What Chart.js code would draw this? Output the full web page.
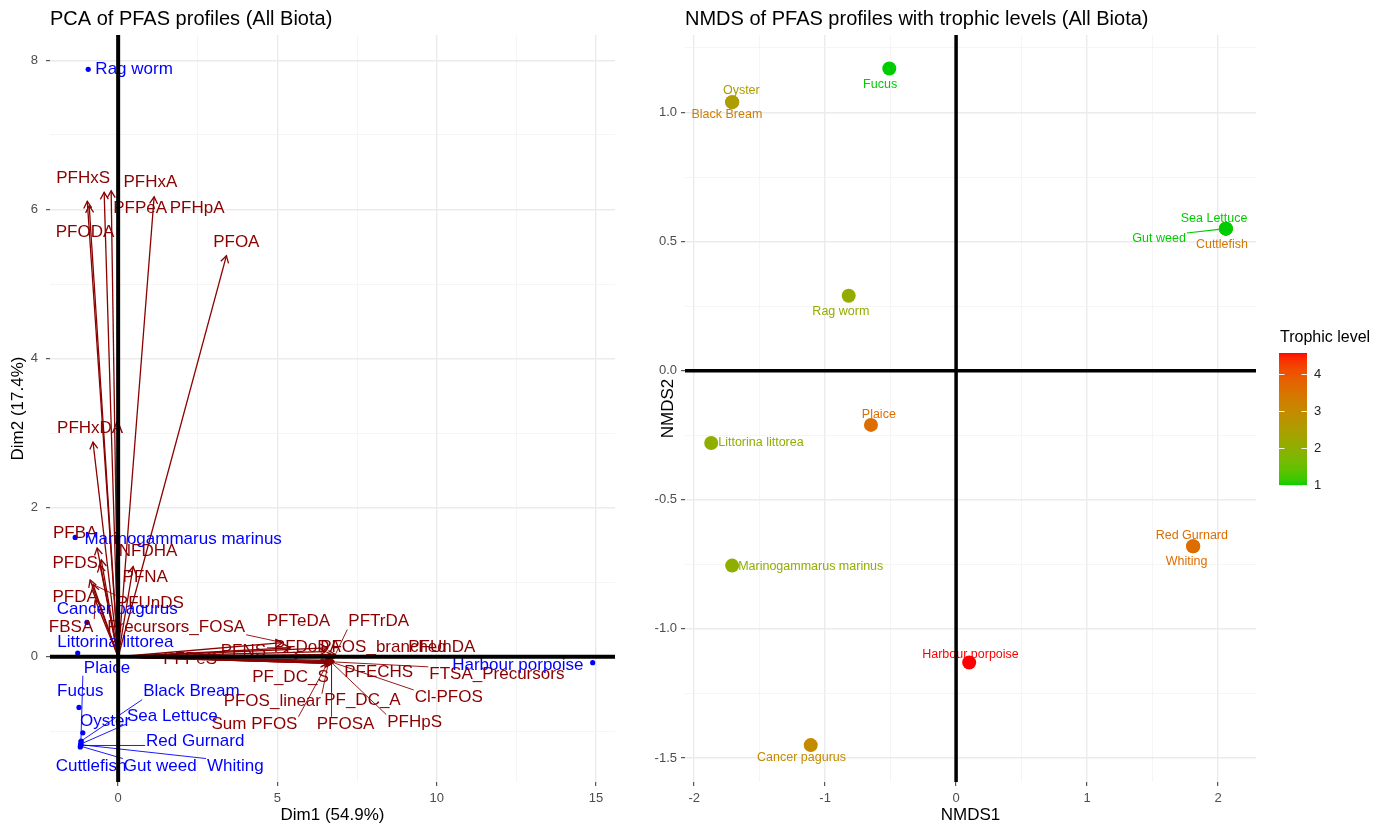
<!DOCTYPE html>
<html><head><meta charset="utf-8">
<script src="https://cdn.jsdelivr.net/npm/chart.js@4.4.1/dist/chart.umd.min.js"></script>
<style>
html,body{margin:0;padding:0;background:#fff;}
#wrap{position:relative;width:1389px;height:827px;overflow:hidden;background:#fff;}
#c1{position:absolute;left:0;top:0;}
#c2{position:absolute;left:640px;top:0;}
</style></head><body>
<div id="wrap"><canvas id="c1" width="640" height="827"></canvas><canvas id="c2" width="749" height="827"></canvas></div>
<script>
const FONT = '"Liberation Sans", Arial, Helvetica, sans-serif';

// ===== PCA biplot: individuals =====
const pcaIndNames = ["Rag worm","Marinogammarus marinus","Cancer pagurus","Littorina littorea","Fucus","Black Bream","Plaice","Sea Lettuce","Red Gurnard","Whiting","Gut weed","Cuttlefish","Oyster","Harbour porpoise"];
const pcaIndDim1 = [-0.94,-1.35,-0.98,-1.27,-1.23,-1.16,-1.17,-1.17,-1.18,-1.17,-1.18,-1.19,-1.11,14.90];
const pcaIndDim2 = [7.88,1.60,0.46,0.05,-0.68,-1.13,-1.14,-1.17,-1.19,-1.18,-1.20,-1.21,-1.02,-0.08];
const pcaIndLabelDim1 = [0.50,2.04,-0.03,-0.09,-1.19,2.30,-0.35,1.70,2.42,3.68,1.32,-0.85,-0.41,12.55];
const pcaIndLabelDim2 = [7.88,1.57,0.63,0.20,-0.47,-0.47,-0.15,-0.80,-1.14,-1.47,-1.47,-1.47,-0.87,-0.11];

// ===== PCA biplot: variables (arrow tips) =====
const pcaVarNames = ["PFHxS","PFHxA","PFPeA","PFHpA","PFODA","PFOA","PFHxDA","PFBA","NFDHA","PFDS","PFNA","PFDA","PFUnDS","FBSA","Precursors_FOSA","PFTeDA","PFTrDA","PFDoDA","PFOS_branched","PFUnDA","PFNS","PFPeS","PF_DC_S","PFECHS","FTSA_Precursors","PFOS_linear","PF_DC_A","Cl-PFOS","Sum PFOS","PFOSA","PFHpS"];
const pcaVarDim1 = [-0.97,-0.22,-0.44,1.13,-0.91,3.40,-0.79,-0.66,-0.57,-0.53,0.47,-0.88,-0.79,-0.72,5.16,6.57,6.82,6.51,6.76,6.82,5.41,5.72,6.73,6.76,6.79,6.60,6.70,6.76,6.57,6.70,6.73];
const pcaVarDim2 = [6.11,6.25,6.23,6.17,6.05,5.38,2.88,1.46,1.23,1.30,1.21,1.03,0.97,0.76,0.19,0.12,0.03,0.07,0.01,0.00,0.12,0.01,-0.07,-0.05,-0.07,-0.08,-0.08,-0.08,-0.09,-0.09,-0.09];
const pcaVarLabelDim1 = [-1.10,1.01,0.69,2.48,-1.04,3.71,-0.88,-1.35,0.94,-1.35,0.85,-1.35,1.01,-1.48,1.82,5.66,8.18,5.94,8.33,10.16,3.93,2.26,5.41,8.18,11.89,4.84,7.67,10.38,4.28,7.14,9.31];
const pcaVarLabelDim2 = [6.42,6.37,6.02,6.02,5.70,5.56,3.07,1.66,1.42,1.26,1.06,0.80,0.72,0.40,0.40,0.47,0.47,0.12,0.12,0.12,0.07,-0.04,-0.27,-0.21,-0.24,-0.60,-0.58,-0.55,-0.91,-0.91,-0.88];

const pcaXMajor = [0,5,10,15], pcaXMinor = [2.5,7.5,12.5];
const pcaYMajor = [0,2,4,6,8], pcaYMinor = [-1,1,3,5,7];

// ===== NMDS =====
const nmdsNames = ["Fucus","Black Bream","Oyster","Cuttlefish","Gut weed","Sea Lettuce","Rag worm","Plaice","Littorina littorea","Marinogammarus marinus","Whiting","Red Gurnard","Harbour porpoise","Cancer pagurus"];
const nmds1 = [-0.51,-1.71,-1.71,2.06,2.06,2.06,-0.82,-0.65,-1.87,-1.71,1.81,1.81,0.10,-1.11];
const nmds2 = [1.17,1.04,1.04,0.55,0.55,0.55,0.29,-0.21,-0.28,-0.755,-0.68,-0.68,-1.13,-1.45];
const trophicLevel = [1.0,3.3,2.5,3.4,1.0,1.0,2.1,3.6,2.0,2.0,3.6,3.6,4.57,3.0];
const nmdsLabel1 = [-0.58,-1.75,-1.64,2.03,1.55,1.97,-0.88,-0.59,-1.49,-1.11,1.76,1.80,0.11,-1.18];
const nmdsLabel2 = [1.11,0.99,1.085,0.49,0.51,0.59,0.23,-0.17,-0.28,-0.76,-0.74,-0.64,-1.10,-1.50];

const nmdsXMajor = [-2,-1,0,1,2], nmdsXMinor = [-1.5,-0.5,0.5,1.5];
const nmdsYMajor = [-1.5,-1,-0.5,0,0.5,1], nmdsYMinor = [-1.25,-0.75,-0.25,0.25,0.75,1.25];
const trophicTicks = [1,2,3,4];

// ===== colour scale (ggplot-like Lab interpolation) =====
function lin(c){c/=255;return c<=0.04045?c/12.92:Math.pow((c+0.055)/1.055,2.4);}
function unlin(c){const v=c<=0.0031308?12.92*c:1.055*Math.pow(c,1/2.4)-0.055;return Math.max(0,Math.min(255,Math.round(v*255)));}
function rgb2lab(r,g,b){const R=lin(r),G=lin(g),B=lin(b);
  const X=(0.4124*R+0.3576*G+0.1805*B)/0.95047,Y=0.2126*R+0.7152*G+0.0722*B,Z=(0.0193*R+0.1192*G+0.9505*B)/1.08883;
  const f=t=>t>0.008856?Math.cbrt(t):7.787*t+16/116;
  return [116*f(Y)-16,500*(f(X)-f(Y)),200*(f(Y)-f(Z))];}
function lab2rgb(L,a,b){const fy=(L+16)/116,fx=fy+a/500,fz=fy-b/200;
  const fi=t=>t>0.206893?t*t*t:(t-16/116)/7.787;
  const X=fi(fx)*0.95047,Y=fi(fy),Z=fi(fz)*1.08883;
  const R=3.2406*X-1.5372*Y-0.4986*Z,G=-0.9689*X+1.8758*Y+0.0415*Z,B=0.0557*X-0.2040*Y+1.0570*Z;
  return 'rgb('+unlin(R)+','+unlin(G)+','+unlin(B)+')';}
const LOW = rgb2lab(0,205,0), HIGH = rgb2lab(255,0,0);
const tMin = Math.min.apply(null, trophicLevel), tMax = Math.max.apply(null, trophicLevel);
function trophicColor(v){const t=Math.max(0,Math.min(1,(v-tMin)/(tMax-tMin)));
  return lab2rgb(LOW[0]+(HIGH[0]-LOW[0])*t,LOW[1]+(HIGH[1]-LOW[1])*t,LOW[2]+(HIGH[2]-LOW[2])*t);}

// ===== helpers =====
function makeAxis(min,max,major,minor,fmt,horizontal,size,pad){
  const all=major.concat(minor).sort((a,b)=>a-b);
  const isMajor=v=>major.indexOf(v)!==-1;
  return {type:'linear',min:min,max:max,
    afterBuildTicks:s=>{s.ticks=all.map(v=>({value:v}));},
    afterFit:s=>{if(horizontal)s.height=size;else s.width=size;},
    border:{display:false},
    grid:{color:c=>(c.tick&&isMajor(c.tick.value))?'#EBEBEB':'#F2F2F2',
      lineWidth:c=>(c.tick&&isMajor(c.tick.value))?1.4:0.8,
      tickColor:c=>(c.tick&&isMajor(c.tick.value))?'#333333':'rgba(0,0,0,0)',
      tickWidth:1,tickLength:4,drawTicks:true},
    ticks:{autoSkip:false,maxRotation:0,minRotation:0,padding:pad,color:'#4D4D4D',font:{family:FONT,size:13},
      callback:v=>isMajor(v)?fmt(v):''}};
}
function drawRepelLabels(chart,o){
  const ctx=chart.ctx,sx=chart.scales.x,sy=chart.scales.y;
  ctx.save();ctx.font=o.fontSize+'px '+FONT;ctx.textAlign='center';ctx.textBaseline='middle';
  const items=o.names.map((n,i)=>{
    const px=sx.getPixelForValue(o.x[i]),py=sy.getPixelForValue(o.y[i]);
    const lx=sx.getPixelForValue(o.lx[i]),ly=sy.getPixelForValue(o.ly[i]);
    const w=ctx.measureText(n).width,h=o.fontSize*0.8;
    const bx=Math.max(lx-w/2-1,Math.min(px,lx+w/2+1));
    const by=Math.max(ly-h/2-1,Math.min(py,ly+h/2+1));
    return {n,px,py,lx,ly,bx,by,col:o.color(i)};
  });
  items.forEach(it=>{
    const dx=it.px-it.bx,dy=it.py-it.by,d=Math.hypot(dx,dy);
    if(d>o.segMin){const k=(d-o.pointPad)/d;
      ctx.strokeStyle=it.col;ctx.lineWidth=o.segWidth;ctx.beginPath();
      ctx.moveTo(it.bx,it.by);ctx.lineTo(it.bx+dx*k,it.by+dy*k);ctx.stroke();}
  });
  items.forEach(it=>{ctx.fillStyle=it.col;ctx.fillText(it.n,it.lx,it.ly);});
  ctx.restore();
}
function drawZeroLines(chart,w){
  const ctx=chart.ctx,a=chart.chartArea,sx=chart.scales.x,sy=chart.scales.y;
  const x0=sx.getPixelForValue(0),y0=sy.getPixelForValue(0);
  ctx.save();ctx.strokeStyle='#000';ctx.lineWidth=w;ctx.beginPath();
  ctx.moveTo(x0,a.top);ctx.lineTo(x0,a.bottom);ctx.moveTo(a.left,y0);ctx.lineTo(a.right,y0);ctx.stroke();ctx.restore();
}
function drawTitles(chart,title,xt,yt,yTitleX){
  const ctx=chart.ctx,a=chart.chartArea;
  ctx.save();ctx.fillStyle='#000';ctx.textBaseline='alphabetic';
  ctx.font='20px '+FONT;ctx.textAlign='left';ctx.fillText(title,a.left,25);
  ctx.font='17px '+FONT;ctx.textAlign='center';ctx.textBaseline='middle';
  ctx.fillText(xt,(a.left+a.right)/2,815);
  ctx.translate(yTitleX,(a.top+a.bottom)/2);ctx.rotate(-Math.PI/2);ctx.fillText(yt,0,0);
  ctx.restore();
}

// ===== PCA chart =====
const pcaPlugin={id:'pcaExtras',
  afterDatasetsDraw(chart){
    const ctx=chart.ctx,sx=chart.scales.x,sy=chart.scales.y;
    const ox=sx.getPixelForValue(0),oy=sy.getPixelForValue(0);
    ctx.save();ctx.strokeStyle='#8B0000';ctx.lineWidth=1.3;
    pcaVarDim1.forEach((v,i)=>{
      const tx=sx.getPixelForValue(v),ty=sy.getPixelForValue(pcaVarDim2[i]);
      const ang=Math.atan2(ty-oy,tx-ox),L=8,a=Math.PI/6;
      ctx.beginPath();ctx.moveTo(tx-L*Math.cos(ang-a),ty-L*Math.sin(ang-a));ctx.lineTo(tx,ty);
      ctx.lineTo(tx-L*Math.cos(ang+a),ty-L*Math.sin(ang+a));ctx.stroke();
    });
    ctx.restore();
    drawRepelLabels(chart,{names:pcaVarNames,x:pcaVarDim1,y:pcaVarDim2,lx:pcaVarLabelDim1,ly:pcaVarLabelDim2,
      color:()=>'#8B0000',fontSize:17,segMin:19,pointPad:1,segWidth:0.9});
    drawRepelLabels(chart,{names:pcaIndNames,x:pcaIndDim1,y:pcaIndDim2,lx:pcaIndLabelDim1,ly:pcaIndLabelDim2,
      color:()=>'#0000FF',fontSize:17,segMin:19,pointPad:2,segWidth:0.9});
  },
  afterDraw(chart){
    drawZeroLines(chart,4);
    drawTitles(chart,'PCA of PFAS profiles (All Biota)','Dim1 (54.9%)','Dim2 (17.4%)',18);
  }};

const pcaDatasets=[{label:'Individuals',data:pcaIndDim1.map((v,i)=>({x:v,y:pcaIndDim2[i]})),
  pointRadius:2.6,pointBackgroundColor:'#0000FF',pointBorderWidth:0,showLine:false}];
pcaVarNames.forEach((n,i)=>{pcaDatasets.push({label:n,data:[{x:0,y:0},{x:pcaVarDim1[i],y:pcaVarDim2[i]}],
  showLine:true,borderColor:'#8B0000',borderWidth:1.3,pointRadius:0,fill:false});});

new Chart(document.getElementById('c1'),{type:'scatter',
  data:{datasets:pcaDatasets},
  options:{responsive:false,animation:false,events:[],
    layout:{padding:{top:35,right:25,left:0,bottom:0}},
    plugins:{legend:{display:false},tooltip:{enabled:false},title:{display:false}},
    scales:{x:makeAxis(-2.14,15.6,pcaXMajor,pcaXMinor,v=>String(v),true,45,5),
            y:makeAxis(-1.68,8.34,pcaYMajor,pcaYMinor,v=>String(v),false,50,8)}},
  plugins:[pcaPlugin]});

// ===== NMDS chart =====
const nmdsPlugin={id:'nmdsExtras',
  afterDatasetsDraw(chart){
    drawRepelLabels(chart,{names:nmdsNames,x:nmds1,y:nmds2,lx:nmdsLabel1,ly:nmdsLabel2,
      color:i=>trophicColor(trophicLevel[i]),fontSize:12.5,segMin:16,pointPad:7,segWidth:1.2});
  },
  afterDraw(chart){
    drawZeroLines(chart,3.5);
    drawTitles(chart,'NMDS of PFAS profiles with trophic levels (All Biota)','NMDS1','NMDS2',28);
    // colour bar legend
    const ctx=chart.ctx,bx=639,bw=28,top=353,bot=485;
    const yOf=v=>bot-(v-tMin)/(tMax-tMin)*(bot-top);
    ctx.save();
    for(let y=top;y<bot;y+=1){const v=tMin+(bot-y-0.5)/(bot-top)*(tMax-tMin);ctx.fillStyle=trophicColor(v);ctx.fillRect(bx,y,bw,1.2);}
    ctx.strokeStyle='rgba(255,255,255,0.9)';ctx.lineWidth=1;
    ctx.font='13px '+FONT;ctx.fillStyle='#222';ctx.textAlign='left';ctx.textBaseline='middle';
    trophicTicks.forEach(t=>{const y=Math.round(yOf(t))+0.5;
      ctx.beginPath();ctx.moveTo(bx,y);ctx.lineTo(bx+5.5,y);ctx.moveTo(bx+bw-5.5,y);ctx.lineTo(bx+bw,y);ctx.stroke();
      ctx.fillText(String(t),bx+bw+7,y);});
    ctx.font='16px '+FONT;ctx.fillStyle='#000';ctx.fillText('Trophic level',640,338);
    ctx.restore();
  }};

new Chart(document.getElementById('c2'),{type:'scatter',
  data:{datasets:[{label:'NMDS',data:nmds1.map((v,i)=>({x:v,y:nmds2[i]})),
    pointRadius:7,pointBorderWidth:0,pointBackgroundColor:trophicLevel.map(trophicColor)}]},
  options:{responsive:false,animation:false,events:[],
    layout:{padding:{top:35,right:133,left:0,bottom:0}},
    plugins:{legend:{display:false},tooltip:{enabled:false},title:{display:false}},
    scales:{x:makeAxis(-2.07,2.29,nmdsXMajor,nmdsXMinor,v=>String(v),true,45,5),
            y:makeAxis(-1.593,1.30,nmdsYMajor,nmdsYMinor,v=>v.toFixed(1),false,45,4)}},
  plugins:[nmdsPlugin]});
</script>
</body></html>
